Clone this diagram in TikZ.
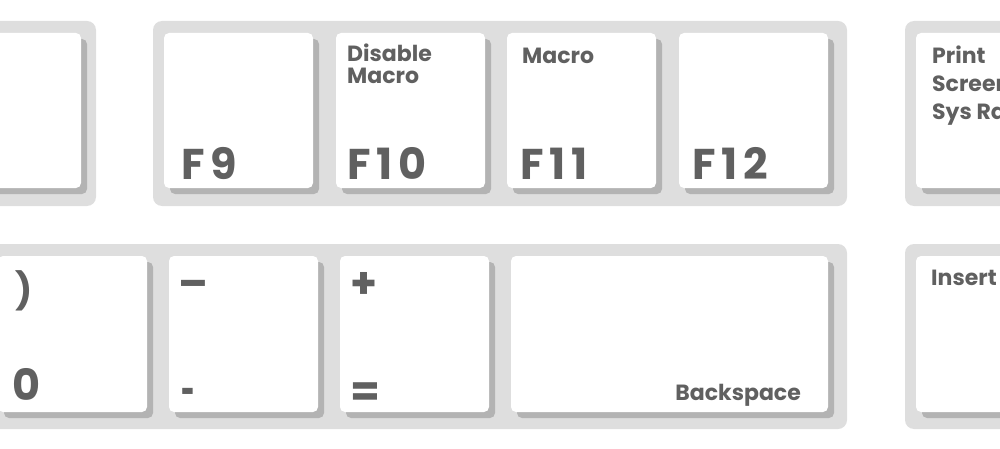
\documentclass[tikz,border=0pt]{standalone}
\usepackage{fontspec}
\setmainfont{Poppins}
\definecolor{grp}{HTML}{DEDEDE}
\definecolor{shd}{HTML}{B3B3B3}
\definecolor{ink}{HTML}{606060}
\tikzset{
  keygroup/.style={fill=grp,rounded corners=9pt},
  keyshadow/.style={fill=shd,rounded corners=5pt},
  keyface/.style={fill=white,rounded corners=5pt},
  bigtxt/.style={inner sep=0pt,anchor=base west,text=ink,font=\fontsize{43}{43}\selectfont\bfseries},
  fkeytxt/.style={bigtxt,font=\fontsize{43}{43}\selectfont\bfseries\addfontfeature{LetterSpace=14}},
  smalltxt/.style={inner sep=0pt,anchor=base west,text=ink,font=\fontsize{22}{22}\selectfont\bfseries},
}
\begin{document}
\begin{tikzpicture}[x=1pt,y=-1pt]
\useasboundingbox (0,0) rectangle (1000,449);
\clip (0,0) rectangle (1000,449);
% key groups
\fill[keygroup] (-60,21) rectangle (96,206);
\fill[keygroup] (153,21) rectangle (847,206);
\fill[keygroup] (905,21) rectangle (1060,206);
\fill[keygroup] (-60,244) rectangle (847,429);
\fill[keygroup] (905,244) rectangle (1060,429);
% keys, top row
\foreach \x in {-68,164,336,507,679,916}{
  \fill[keyshadow] (\x+6,39) rectangle ++(149,155);
  \fill[keyface] (\x,33) rectangle ++(149,155);
}
% keys, bottom row
\foreach \x/\w in {-2/149,169/149,340/149,511/317,916/149}{
  \fill[keyshadow] (\x+6,262) rectangle ++(\w,156);
  \fill[keyface] (\x,256) rectangle ++(\w,156);
}
% labels
\node[fkeytxt] (f9) at (181,179) {F9};
\node[fkeytxt] (f10) at (347,179) {F10};
\node[fkeytxt] (f11) at (520,179) {F11};
\node[fkeytxt] (f12) at (692,179) {F12};
\node[smalltxt] (dis) at (347,62) {Disable};
\node[smalltxt] (mac1) at (347,84) {Macro};
\node[smalltxt] (mac2) at (522,64) {Macro};
\node[smalltxt] (prt) at (932,64) {Print};
\node[smalltxt] (scr) at (932,92) {Screen};
\node[smalltxt] (sys) at (932,120) {Sys Rq};
\node[smalltxt] (ins) at (931,285) {Insert};
\node[smalltxt,anchor=base east] (bksp) at (801,400) {Backspace};
\node[bigtxt,font=\fontsize{36}{36}\selectfont\bfseries] (paren) at (15,303) {)};
\node[bigtxt] (zero) at (12,400) {0};
\node[bigtxt] (dash) at (178,298) {–};
\node[bigtxt] (hyph) at (181,406) {\scalebox{0.55}[1]{-}};
\node[bigtxt] (plus) at (350,298) {+};
\node[bigtxt] (eq) at (350,406) {=};
\end{tikzpicture}
\end{document}
